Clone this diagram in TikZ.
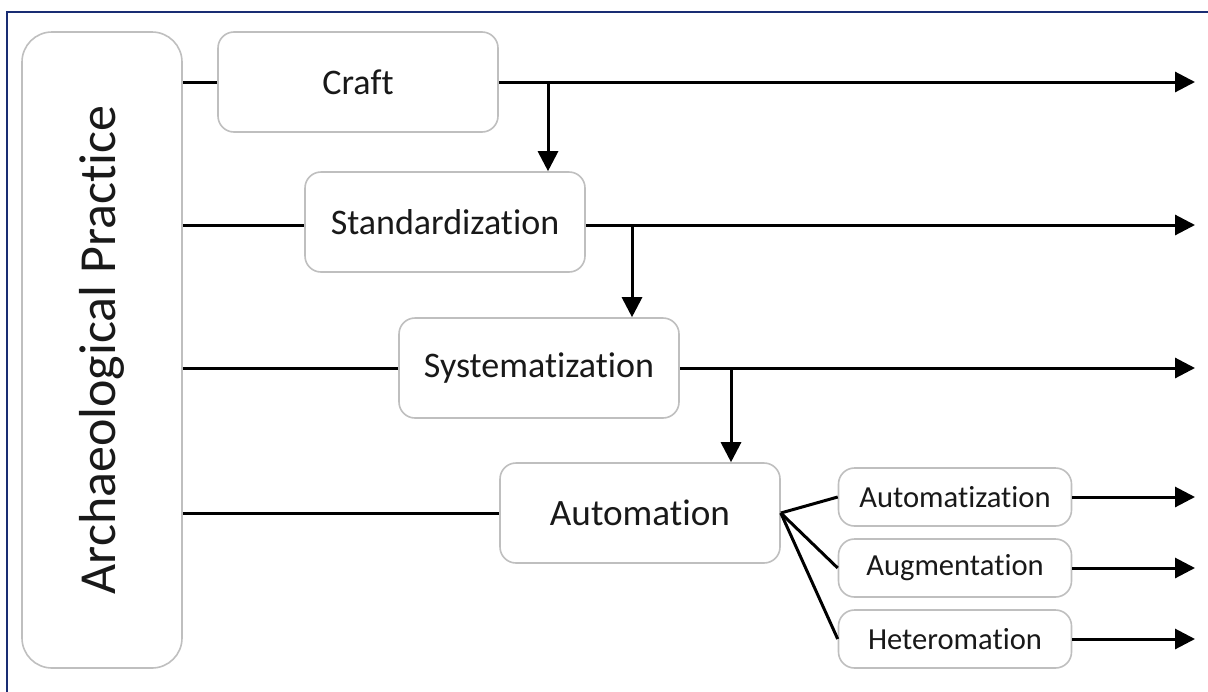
\documentclass[tikz,border=0pt]{standalone}
\usepackage{fontspec}
\setmainfont{Carlito}[Ligatures=NoCommon]
\usetikzlibrary{arrows.meta}
\begin{document}
\begin{tikzpicture}[x=0.5pt,y=-0.5pt]
            \tikzstyle{boite}=[draw=black!25,line width=0.8pt,rounded corners=8pt,fill=white,text=black!90,inner sep=0pt]
            \tikzstyle{grande}=[boite,minimum width=140pt,minimum height=50pt,font=\fontsize{18}{22}\selectfont]
            \tikzstyle{petite}=[boite,minimum width=116.5pt,minimum height=29pt,font=\fontsize{15.3}{18}\selectfont]
            \tikzstyle{trait}=[line width=1.5pt,black]
            \tikzstyle{fleche}=[trait,-{Triangle[length=10pt,width=10pt]}]
            \useasboundingbox (0,0) rectangle (1208,691);
            \draw[line width=1.2pt,color={rgb,255:red,25;green,45;blue,115}] (1210,12) -- (7,12) -- (7,695);
            \node[boite,rounded corners=15pt,minimum width=80pt,minimum height=318pt] (pratique) at (102,350)
                {\rotatebox{90}{\fontsize{26}{31}\selectfont Archaeological Practice}};
            \node[grande] (craft) at (358,82) {Craft};
            \node[grande] (std) at (445,222) {Standardization};
            \node[grande] (sys) at (539,368) {Systematization};
            \node[grande,font=\fontsize{18.6}{22}\selectfont] (auto) at (640,513) {Automation};
            \node[petite] (automat) at (955,497) {Automatization};
            \node[petite] (augm) at (955,568) {Augmentation};
            \node[petite] (hetero) at (955,639) {Heteromation};
            \coordinate (fin1) at (1195,82);
            \coordinate (fin2) at (1195,225);
            \coordinate (fin3) at (1195,368);
            \coordinate (fin4) at (1195,497);
            \coordinate (fin5) at (1195,568);
            \coordinate (fin6) at (1195,639);
            \coordinate (b1) at (548,82);
            \coordinate (b2) at (632,225);
            \coordinate (b3) at (731,368);
            \draw[trait] (pratique.east |- craft) -- (craft.west);
            \draw[trait] (pratique.east |- fin2) -- (std.west |- fin2);
            \draw[trait] (pratique.east |- sys) -- (sys.west);
            \draw[trait] (pratique.east |- auto) -- (auto.west);
            \draw[fleche] (craft.east) -- (fin1);
            \draw[fleche] (std.east |- fin2) -- (fin2);
            \draw[fleche] (sys.east) -- (fin3);
            \draw[fleche] (b1) -- (b1 |- std.north);
            \draw[fleche] (b2) -- (b2 |- sys.north);
            \draw[fleche] (b3) -- (b3 |- auto.north);
            \draw[trait] (auto.east) -- (automat.west);
            \draw[trait] (auto.east) -- (augm.west);
            \draw[trait] (auto.east) -- (hetero.west);
            \draw[fleche] (automat.east) -- (fin4);
            \draw[fleche] (augm.east) -- (fin5);
            \draw[fleche] (hetero.east) -- (fin6);
        \end{tikzpicture}
\end{document}
